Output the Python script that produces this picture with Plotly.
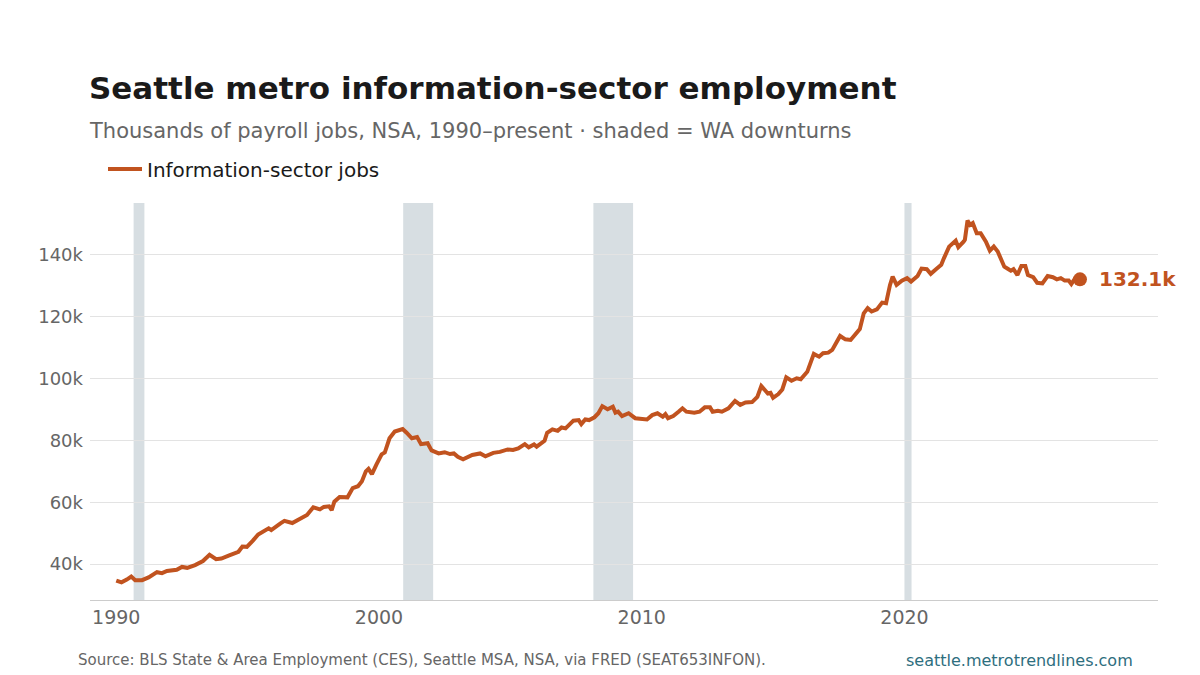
import plotly.graph_objects as go

# ---- data ----
years = [
    1990.00, 1990.20, 1990.40, 1990.57, 1990.72, 1990.98, 1991.23, 1991.55, 1991.74, 1991.93,
    1992.30, 1992.50, 1992.70, 1993.00, 1993.30, 1993.55, 1993.80, 1994.00, 1994.30, 1994.65,
    1994.80, 1994.97, 1995.20, 1995.40, 1995.80, 1995.90, 1996.25, 1996.40, 1996.70, 1997.00,
    1997.26, 1997.50, 1997.75, 1997.90, 1998.10, 1998.20, 1998.30, 1998.50, 1998.80, 1999.00,
    1999.20, 1999.35, 1999.50, 1999.60, 1999.73, 1999.90, 2000.10, 2000.22, 2000.40, 2000.60,
    2000.75, 2000.90, 2001.05, 2001.25, 2001.45, 2001.60, 2001.85, 2002.00, 2002.27, 2002.50,
    2002.70, 2002.85, 2003.00, 2003.20, 2003.55, 2003.85, 2004.05, 2004.35, 2004.60, 2004.90,
    2005.10, 2005.30, 2005.55, 2005.70, 2005.90, 2006.00, 2006.30, 2006.40, 2006.60, 2006.80,
    2006.95, 2007.10, 2007.40, 2007.60, 2007.70, 2007.85, 2008.00, 2008.20, 2008.35, 2008.50,
    2008.70, 2008.90, 2009.00, 2009.10, 2009.25, 2009.50, 2009.75, 2009.95, 2010.20, 2010.40,
    2010.60, 2010.80, 2010.90, 2011.00, 2011.20, 2011.40, 2011.55, 2011.70, 2012.00, 2012.20,
    2012.40, 2012.60, 2012.70, 2012.90, 2013.05, 2013.30, 2013.55, 2013.75, 2013.95, 2014.20,
    2014.40, 2014.55, 2014.65, 2014.80, 2014.90, 2015.00, 2015.20, 2015.35, 2015.50, 2015.70,
    2015.90, 2016.05, 2016.30, 2016.55, 2016.75, 2016.90, 2017.10, 2017.25, 2017.55, 2017.75,
    2017.95, 2018.10, 2018.30, 2018.45, 2018.60, 2018.75, 2018.95, 2019.15, 2019.30, 2019.45,
    2019.55, 2019.70, 2019.90, 2020.10, 2020.25, 2020.50, 2020.65, 2020.85, 2021.00, 2021.20,
    2021.40, 2021.50, 2021.70, 2021.95, 2022.05, 2022.25, 2022.30, 2022.40, 2022.50, 2022.60,
    2022.75, 2022.90, 2023.10, 2023.25, 2023.40, 2023.55, 2023.70, 2023.80, 2023.90, 2024.05,
    2024.15, 2024.30, 2024.45, 2024.60, 2024.70, 2024.90, 2025.05, 2025.25, 2025.45, 2025.65,
    2025.80, 2025.95, 2026.10, 2026.25, 2026.35, 2026.50, 2026.68,
]
jobs_k = [
    34.7, 34.1, 35.0, 36.0, 34.8, 34.8, 35.7, 37.4, 37.1, 37.8,
    38.2, 39.1, 38.8, 39.7, 41.0, 43.0, 41.6, 41.8, 42.8, 44.0,
    45.7, 45.6, 47.6, 49.6, 51.6, 51.0, 53.2, 54.0, 53.3, 54.7,
    55.9, 58.4, 57.7, 58.5, 58.7, 57.5, 60.2, 61.7, 61.6, 64.6,
    65.2, 66.8, 70.0, 70.8, 69.1, 72.2, 75.5, 76.1, 80.7, 82.9,
    83.2, 83.7, 82.5, 80.7, 81.1, 78.8, 79.1, 76.8, 75.8, 76.2,
    75.6, 75.8, 74.7, 73.9, 75.3, 75.8, 74.9, 76.0, 76.3, 77.1,
    76.9, 77.4, 78.8, 77.8, 78.7, 78.0, 79.9, 82.5, 83.6, 83.1,
    84.2, 83.9, 86.4, 86.6, 85.3, 86.8, 86.6, 87.5, 88.8, 91.1,
    90.1, 90.9, 89.0, 89.3, 87.9, 88.8, 87.2, 87.0, 86.8, 88.2,
    88.8, 87.7, 88.5, 87.2, 87.9, 89.3, 90.4, 89.3, 89.0, 89.3,
    90.7, 90.7, 89.3, 89.6, 89.3, 90.4, 92.8, 91.5, 92.3, 92.4,
    94.1, 97.6, 96.8, 95.2, 95.4, 93.8, 95.0, 96.5, 100.4, 99.3,
    100.1, 99.8, 102.2, 108.0, 107.1, 108.2, 108.4, 109.3, 113.8, 112.7,
    112.5, 114.1, 116.0, 121.1, 122.8, 121.7, 122.4, 124.6, 124.4, 130.3,
    133.0, 130.3, 131.7, 132.5, 131.4, 133.2, 135.6, 135.4, 133.9, 135.4,
    136.8, 138.9, 142.7, 144.6, 142.5, 144.3, 144.9, 151.1, 149.7, 150.3,
    147.0, 147.0, 144.3, 141.4, 142.7, 141.1, 138.4, 136.2, 135.7, 134.9,
    135.4, 133.5, 136.4, 136.4, 133.5, 132.8, 131.0, 130.8, 133.2, 132.8,
    132.1, 132.5, 131.7, 131.7, 130.6, 132.5, 132.1,
]
downturn_start = [1990.66, 2000.92, 2008.16, 2020.00]
downturn_end = [1991.07, 2002.06, 2009.67, 2020.27]
x_ticks = [1990, 2000, 2010, 2020]
y_ticks = [40, 60, 80, 100, 120, 140]
y_tick_labels = ["40k", "60k", "80k", "100k", "120k", "140k"]

LINE = "#C1531F"
FONT = "DejaVu Sans, Verdana, sans-serif"

# plot area in pixels (for positioning text in paper coordinates)
L, R, T, B = 90, 1158, 203, 600
def px(xp):
    return (xp - L) / (R - L)
def py(yp):
    return (B - yp) / (B - T)

fig = go.Figure()

fig.add_trace(go.Scatter(
    x=years, y=jobs_k, mode="lines", name="Information-sector jobs",
    line=dict(color=LINE, width=4), hoverinfo="skip",
))
fig.add_trace(go.Scatter(
    x=[years[-1]], y=[jobs_k[-1]], mode="markers", showlegend=False,
    marker=dict(color=LINE, size=14), hoverinfo="skip",
))

for s, e in zip(downturn_start, downturn_end):
    fig.add_shape(type="rect", xref="x", yref="paper", x0=s, x1=e, y0=0, y1=1,
                  fillcolor="rgba(176,190,197,0.5)", line=dict(width=0), layer="below")

fig.add_annotation(x=years[-1], y=jobs_k[-1], xref="x", yref="y",
                   text=f"<b>{jobs_k[-1]:.1f}k</b>", showarrow=False,
                   xanchor="left", yanchor="middle", xshift=17,
                   font=dict(family=FONT, size=20, color=LINE))

fig.add_annotation(x=px(90), y=py(88), xref="paper", yref="paper",
                   text="<b>Seattle metro information-sector employment</b>",
                   showarrow=False, xanchor="left", yanchor="middle", xshift=-3,
                   font=dict(family=FONT, size=31, color="#1a1a1a"))
fig.add_annotation(x=px(90), y=py(131), xref="paper", yref="paper",
                   text="Thousands of payroll jobs, NSA, 1990–present · shaded = WA downturns",
                   showarrow=False, xanchor="left", yanchor="middle", xshift=-3,
                   font=dict(family=FONT, size=21, color="#666666"))
fig.add_annotation(x=px(78), y=py(660), xref="paper", yref="paper",
                   text="Source: BLS State & Area Employment (CES), Seattle MSA, NSA, via FRED (SEAT653INFON).",
                   showarrow=False, xanchor="left", yanchor="middle", xshift=-2,
                   font=dict(family=FONT, size=15, color="#666666"))
fig.add_annotation(x=px(1134), y=py(660), xref="paper", yref="paper",
                   text="seattle.metrotrendlines.com",
                   showarrow=False, xanchor="right", yanchor="middle", xshift=1,
                   font=dict(family=FONT, size=16, color="#2e6e7e"))

fig.update_layout(
    width=1200, height=675,
    margin=dict(l=L, r=1200 - R, t=T, b=675 - B),
    paper_bgcolor="white", plot_bgcolor="white",
    font=dict(family=FONT, size=18, color="#666666"),
    showlegend=True,
    legend=dict(orientation="h", x=px(103), xanchor="left", xref="paper",
                y=1 - 169/675, yref="container", yanchor="middle",
                itemwidth=34,
                font=dict(family=FONT, size=20, color="#1a1a1a"),
                bgcolor="rgba(0,0,0,0)"),
    xaxis=dict(range=[1989.0, 2029.65], tickvals=x_ticks, showgrid=False,
               zeroline=False, showline=True, linecolor="#cccccc", linewidth=1,
               ticks="", tickfont=dict(size=19, color="#666666")),
    yaxis=dict(range=[28.4, 156.8], tickvals=y_ticks, ticktext=y_tick_labels,
               showgrid=True, gridcolor="#e3e3e3", gridwidth=1,
               zeroline=False, showline=False, ticks="", ticklabelstandoff=6,
               tickfont=dict(size=18, color="#666666")),
)

fig.write_html("out.html")
